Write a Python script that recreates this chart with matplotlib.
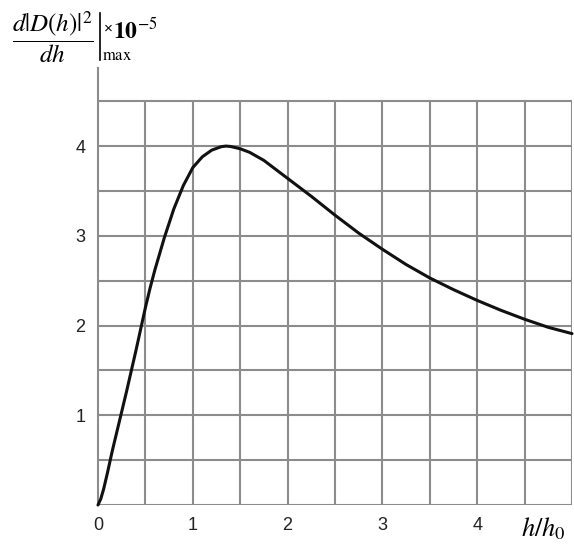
import matplotlib.pyplot as plt
from matplotlib.lines import Line2D
import numpy as np

plt.rcParams["font.family"] = ["Liberation Sans", "DejaVu Sans"]
plt.rcParams["mathtext.fontset"] = "stix"

# curve: h/h0 and d|D(h)|^2/dh (x1e-5)
h = [0, 0.03, 0.06, 0.1, 0.15, 0.2, 0.25, 0.3, 0.35, 0.4, 0.45, 0.5, 0.55,
     0.6, 0.7, 0.8, 0.9, 1.0, 1.1, 1.2, 1.3, 1.35, 1.4, 1.5, 1.6,
     1.75, 2.0, 2.25, 2.5, 2.75, 3.0, 3.25, 3.5, 3.75, 4.0, 4.25, 4.5,
     4.75, 5.0]
dD = [0, 0.07, 0.18, 0.36, 0.6, 0.82, 1.04, 1.26, 1.49, 1.72, 1.96, 2.2,
      2.42, 2.62, 2.98, 3.3, 3.56, 3.76, 3.88, 3.955, 3.993, 4.0, 3.995,
      3.97, 3.93, 3.84, 3.64, 3.44, 3.23, 3.03, 2.85, 2.68, 2.53, 2.40,
      2.28, 2.17, 2.07, 1.98, 1.91]

x_ticks = [0, 1, 2, 3, 4]
y_ticks = [1, 2, 3, 4]
grid_step = 0.5

fig = plt.figure(figsize=(5.74, 5.44), dpi=100)
ax = fig.add_axes([98 / 574, 39 / 544, 474 / 574, 437 / 544])
ax.set_xlim(0, 5.0)
ax.set_ylim(0, 4.87)

grid_col = "#8c8c8c"
gx = np.arange(grid_step, 5.0 + 1e-9, grid_step)
gy = np.arange(0, 4.5 + 1e-9, grid_step)
ax.vlines(gx, 0, 4.5, color=grid_col, lw=1.5, zorder=1)
ax.hlines(gy, 0, 5.0, color=grid_col, lw=1.5, zorder=1)

for s in ["top", "right", "bottom"]:
    ax.spines[s].set_visible(False)
ax.spines["left"].set_color(grid_col)
ax.spines["left"].set_linewidth(1.5)

ax.plot(h, dD, color="#111111", lw=2.2, zorder=3, clip_on=False,
        solid_capstyle="round", solid_joinstyle="round")

ax.set_xticks(x_ticks)
ax.set_yticks(y_ticks)
ax.tick_params(length=0, labelsize=13, colors="#222222")
ax.tick_params(axis="x", pad=9)
ax.tick_params(axis="y", pad=9)

# axis titles
fig.text(543 / 574, 1 - 529 / 544, r"$h/h_0$", fontsize=19,
         ha="center", va="center")
fig.text(12 / 574, 1 - 37 / 544, r"$\dfrac{d|D(h)|^2}{dh}$",
         fontsize=18, ha="left", va="center")
fig.add_artist(Line2D([100 / 574, 100 / 574], [1 - 13 / 544, 1 - 60 / 544],
                      color="black", lw=1.2))
fig.text(102 / 574, 1 - 60 / 544, r"$\mathrm{max}$", fontsize=12,
         ha="left", va="baseline")
fig.text(104 / 574, 1 - 33 / 544, "×", fontsize=11,
         ha="left", va="baseline")
fig.text(113 / 574, 1 - 38 / 544, r"$\mathbf{10}^{-5}$", fontsize=17,
         ha="left", va="baseline")

fig.savefig("out.png", dpi=100)
